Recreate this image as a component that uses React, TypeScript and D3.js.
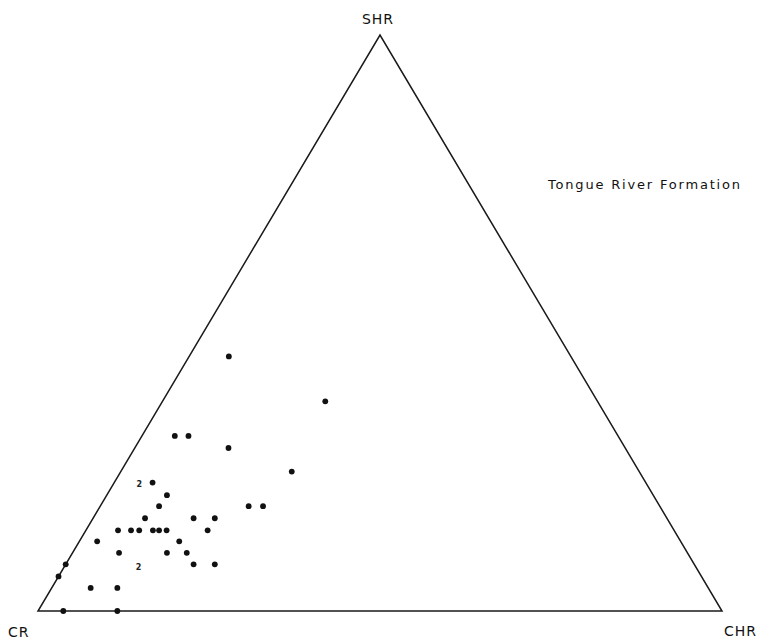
import React from "react";
import * as d3 from "d3";

// Ternary composition (%) of each sample: SHR (top), CHR (right), CR (left)
const shrValues = [44.2, 36.4, 30.4, 30.4, 28.3, 24.2, 22.3, 20.1, 18.2, 18.2, 18.2, 16.1, 16.1, 16.1, 14.0, 14.0, 14.0, 14.0, 14.0, 14.0, 14.0, 12.1, 12.1, 10.1, 10.1, 10.1, 8.1, 8.1, 8.1, 6.0, 4.0, 4.0, 0, 0];
const chrValues = [5.8, 23.8, 4.8, 6.8, 13.7, 25.0, 5.6, 8.8, 8.6, 21.7, 23.8, 7.6, 14.7, 17.8, 4.7, 6.6, 7.8, 9.8, 10.7, 11.8, 17.8, 2.6, 14.6, 6.8, 13.8, 16.7, 18.7, 21.8, 0, 0, 5.7, 9.6, 3.7, 11.6];
const crValues = shrValues.map((s, i) => 100 - s - chrValues[i]);

// Samples plotted as the numeral "2" (two coincident samples)
const doubleShr = [22.0, 7.6];
const doubleChr = [3.8, 10.9];

const vertexLabels = ["CR", "CHR", "SHR"];
const title = "Tongue River Formation";

const W = 759;
const H = 639;
const xLeft = 38, xRight = 722, yBase = 611, yApex = 35;

export default function App() {
  const xs = d3.scaleLinear().domain([0, 100]).range([xLeft, xRight]);
  const ys = d3.scaleLinear().domain([0, 100]).range([yBase, yApex]);
  const px = (shr: number, chr: number) => xs(chr + shr / 2);
  const py = (shr: number) => ys(shr);

  const tri = d3.line()([
    [px(0, 0), py(0)],
    [px(0, 100), py(0)],
    [px(100, 0), py(100)],
  ]) + "Z";

  const font = "'DejaVu Sans', sans-serif";
  return (
    <svg width={W} height={H} style={{ position: "absolute", left: 0, top: 0, background: "#fff" }}>
      <rect width={W} height={H} fill="#fff" />
      <path d={tri} fill="none" stroke="#1a1a1a" strokeWidth={1.5} strokeLinejoin="miter" />
      {shrValues.map((s, i) => (
        <circle key={i} cx={px(s, chrValues[i])} cy={py(s)} r={2.9} fill="#111" data-cr={crValues[i]} />
      ))}
      {doubleShr.map((s, i) => (
        <text key={"d" + i} x={px(s, doubleChr[i])} y={py(s) + 3} fontSize={8} fontWeight="bold" fontFamily={font} textAnchor="middle" fill="#222">2</text>
      ))}
      <text x={378} y={24} fontSize={14} fontFamily={font} textAnchor="middle" letterSpacing={1} fill="#111">{vertexLabels[2]}</text>
      <text x={8} y={637} fontSize={14} fontFamily={font} letterSpacing={1} fill="#111">{vertexLabels[0]}</text>
      <text x={724} y={636} fontSize={14} fontFamily={font} letterSpacing={1} fill="#111">{vertexLabels[1]}</text>
      <text x={548} y={189} fontSize={13} fontFamily={font} textLength={192} lengthAdjust="spacing" fill="#111">{title}</text>
    </svg>
  );
}
